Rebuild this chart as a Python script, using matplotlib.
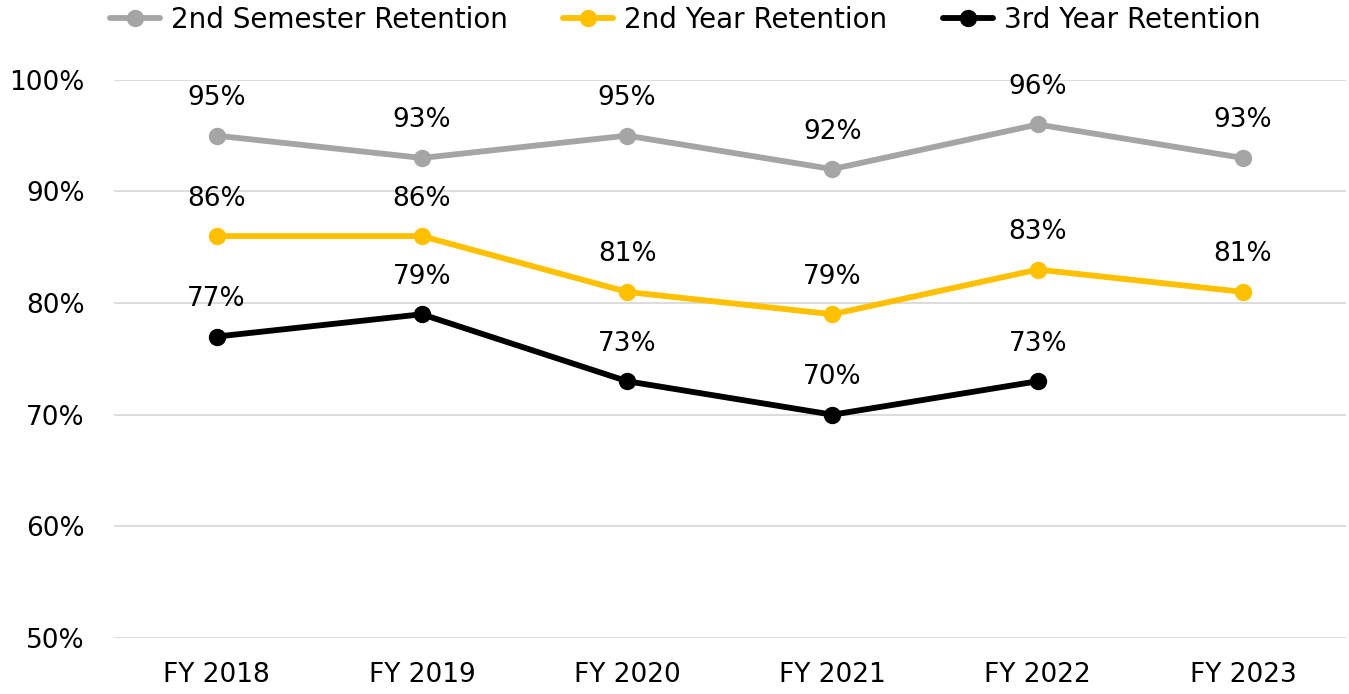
import matplotlib
matplotlib.use("Agg")
import matplotlib.pyplot as plt
import matplotlib.ticker as ticker

plt.rcParams['font.family'] = ['DejaVu Sans']

years = ["FY 2018", "FY 2019", "FY 2020", "FY 2021", "FY 2022", "FY 2023"]
sem2 = [95, 93, 95, 92, 96, 93]
year2 = [86, 86, 81, 79, 83, 81]
year3 = [77, 79, 73, 70, 73]

series = [
    ("2nd Semester Retention", sem2, "#A5A5A5"),
    ("2nd Year Retention", year2, "#FFC000"),
    ("3rd Year Retention", year3, "#000000"),
]

fig = plt.figure(figsize=(13.49, 6.94), dpi=100)
ax = fig.add_axes([0.0845, 0.0807, 0.913, 0.8043])

for name, vals, col in series:
    xs = list(range(len(vals)))
    ax.plot(xs, vals, color=col, lw=4.2, marker='o', ms=11.5, label=name,
            solid_capstyle='round', zorder=3)
    for x, v in zip(xs, vals):
        ax.annotate(f"{v}%", (x, v), xytext=(0, 27), textcoords='offset points',
                    ha='center', va='center', fontsize=19, color='black')

ax.set_ylim(50, 100)
ax.set_xlim(-0.5, len(years) - 0.5)
ax.set_xticks(range(len(years)))
ax.set_xticklabels(years)
ax.set_yticks(range(50, 101, 10))
ax.yaxis.set_major_formatter(ticker.FormatStrFormatter('%d%%'))
ax.grid(axis='y', color='#D9D9D9', lw=1.3)
ax.set_axisbelow(True)
for s in ax.spines.values():
    s.set_visible(False)
ax.tick_params(length=0, labelsize=19)
ax.tick_params(axis='x', pad=17)
ax.tick_params(axis='y', pad=21)

fig.legend(loc='upper center', bbox_to_anchor=(0.508, 1.028), ncol=3, frameon=False,
           fontsize=20, handlelength=1.8, handletextpad=0.4, columnspacing=2.0)

fig.savefig("out.png", dpi=100)
